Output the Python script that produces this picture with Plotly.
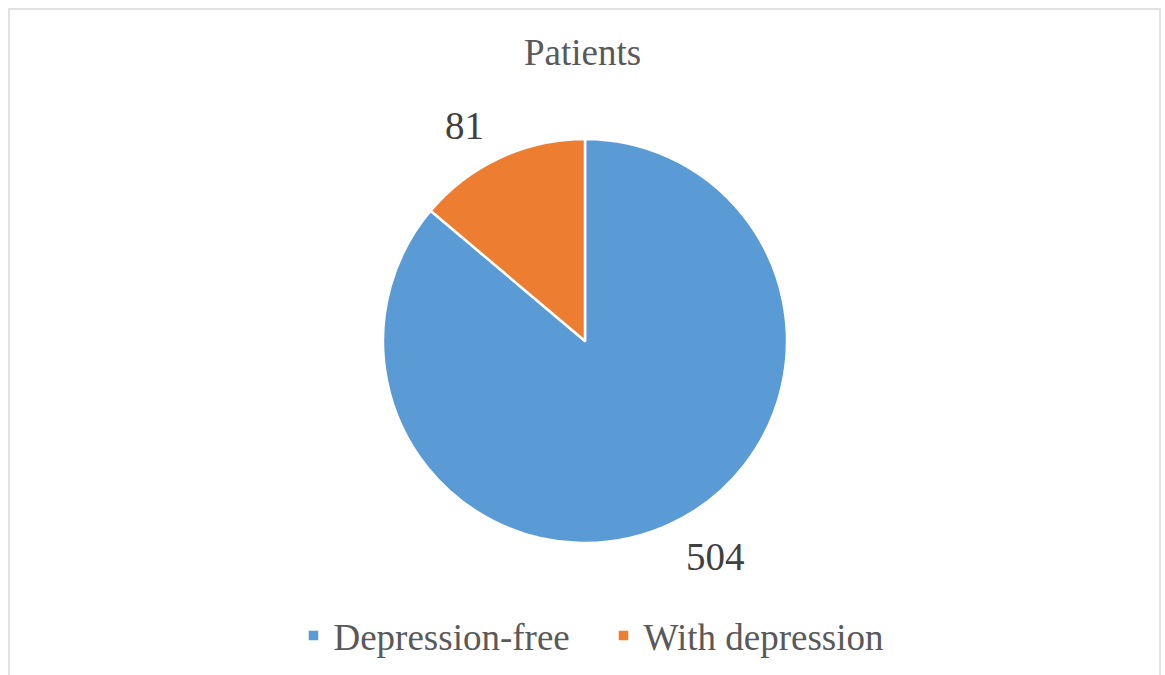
import math
import plotly.graph_objects as go

labels = ["Depression-free", "With depression"]
values = [504, 81]
colors = ["#5B9BD5", "#ED7D31"]

W, H = 1165, 675
cx, cy, r = 585, 341, 202
label_r = 238  # distance of value labels from the pie centre, px

SERIF = "Liberation Serif, Times New Roman, serif"

fig = go.Figure(
    go.Pie(
        labels=labels,
        values=values,
        sort=False,
        direction="clockwise",
        rotation=0,
        marker=dict(colors=colors, line=dict(color="white", width=2.5)),
        textposition="none",
        hoverinfo="label+value",
        domain=dict(
            x=[(cx - r) / W, (cx + r) / W],
            y=[1 - (cy + r) / H, 1 - (cy - r) / H],
        ),
    )
)

# value labels outside each slice, anchored on the side facing the pie
total = sum(values)
annotations = []
start = 0.0
for v in values:
    span = v / total * 360.0
    mid = math.radians(start + span / 2)
    px = cx + label_r * math.sin(mid)
    py = cy - label_r * math.cos(mid)
    annotations.append(
        dict(
            text=str(v),
            x=px / W,
            y=1 - py / H,
            xref="paper",
            yref="paper",
            xanchor="left" if math.sin(mid) >= 0 else "right",
            yanchor="middle",
            showarrow=False,
            borderpad=0,
            font=dict(family=SERIF, size=39, color="#404040"),
        )
    )
    start += span

fig.update_layout(
    width=W,
    height=H,
    margin=dict(l=0, r=0, t=0, b=0),
    paper_bgcolor="white",
    plot_bgcolor="white",
    title=dict(
        text="Patients",
        x=0.5,
        xanchor="center",
        y=1 - 52 / H,
        yanchor="middle",
        font=dict(family=SERIF, size=37, color="#595959"),
    ),
    legend=dict(
        orientation="h",
        x=0.518,
        xanchor="center",
        y=1 - 636 / H,
        yanchor="middle",
        font=dict(family=SERIF, size=37, color="#595959"),
        itemwidth=30,
        entrywidth=265,
        entrywidthmode="pixels",
        traceorder="normal",
    ),
    annotations=annotations,
    shapes=[
        dict(
            type="rect",
            xref="paper",
            yref="paper",
            x0=9 / W,
            x1=1160 / W,
            y0=-0.05,
            y1=1 - 9 / H,
            line=dict(color="#D9D9D9", width=1.5),
            fillcolor="rgba(0,0,0,0)",
            layer="below",
        )
    ],
)

fig.write_html("out.html")
